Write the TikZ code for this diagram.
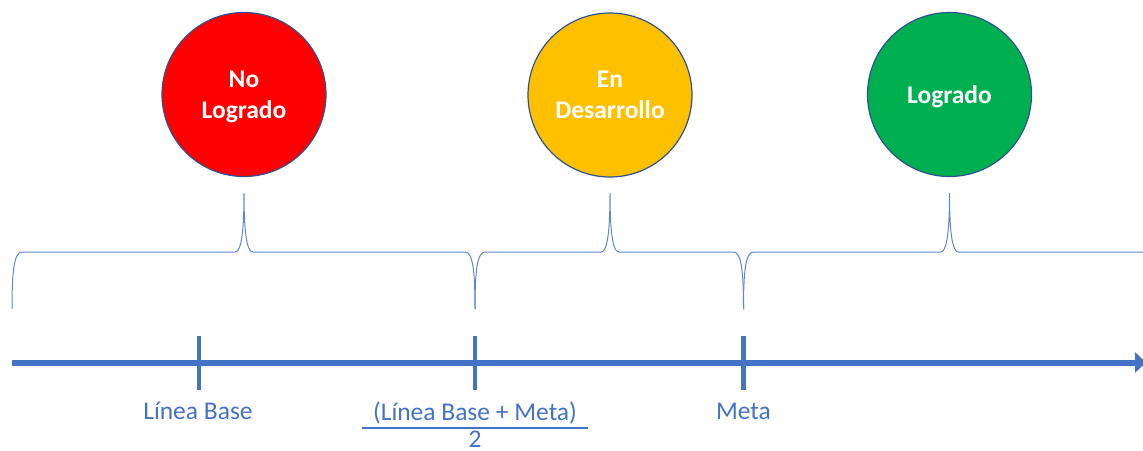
\documentclass[tikz,border=0pt]{standalone}
\usepackage{fontspec}
\setmainfont{Carlito}
\usetikzlibrary{arrows.meta}
\definecolor{axisblue}{HTML}{4472C4}
\definecolor{ringblue}{HTML}{2F528F}
\definecolor{redfill}{HTML}{FF0000}
\definecolor{yellowfill}{HTML}{FFC000}
\definecolor{greenfill}{HTML}{00B050}
\newcommand\mybrace[3]{% left x, right x, peak x
  \draw[bracestyle] (#1,309) .. controls (#1,272) and ({#1+2},252) .. ({#1+10},252)
    -- ({#3-9},252) .. controls ({#3-4},252) and (#3,240) .. (#3,193)
    .. controls (#3,240) and ({#3+4},252) .. ({#3+9},252)
    -- ({#2-10},252) .. controls ({#2-2},252) and (#2,272) .. (#2,309);}
\begin{document}
\begin{tikzpicture}[x=1pt,y=-1pt,
  stateball/.style={circle,draw=ringblue,line width=1.2pt,minimum size=164pt,inner sep=0pt,
    text=white,font=\fontsize{25.5}{31}\selectfont\bfseries,align=center,text depth=0pt},
  bracestyle/.style={draw=axisblue!85!white,line width=1pt},
  axisline/.style={draw=axisblue,line width=6pt},
  tickmark/.style={draw=axisblue,line width=4.5pt},
  axislabel/.style={text=axisblue,font=\fontsize{25.5}{31}\selectfont,inner sep=0pt,anchor=base}]
\useasboundingbox (0,0) rectangle (1143,450);
% circles
\node[stateball,fill=redfill] (nolog) at (244,94.5) {No\\Logrado};
\node[stateball,fill=yellowfill] (endes) at (610,95) {En\\Desarrollo};
\node[stateball,fill=greenfill] (log) at (949.5,94.5) {Logrado};
% braces
\mybrace{12}{475}{244}
\mybrace{475}{743.5}{610}
\mybrace{743.5}{1155}{949.5}
% axis
\coordinate (axstart) at (12,362.5);
\coordinate (axend) at (1146,362.5);
\draw[axisline,-{Triangle[length=11pt,width=20pt]}] (axstart) -- (axend);
% ticks
\coordinate (t1a) at (199,336); \coordinate (t1b) at (199,390);
\coordinate (t2a) at (475,336); \coordinate (t2b) at (475,390);
\coordinate (t3a) at (743.5,336); \coordinate (t3b) at (743.5,390);
\draw[tickmark] (t1a) -- (t1b);
\draw[tickmark] (t2a) -- (t2b);
\draw[tickmark] (t3a) -- (t3b);
% labels
\node[axislabel] (lb) at (198,419) {Línea Base};
\node[axislabel] (num) at (475,420) {(Línea Base + Meta)};
\coordinate (fa) at (362,428); \coordinate (fb) at (588,428);
\draw[draw=axisblue,line width=1.5pt] (fa) -- (fb);
\node[axislabel,text depth=0pt] (den) at (475,447) {2};
\node[axislabel] (meta) at (743.5,419) {Meta};
\end{tikzpicture}
\end{document}
